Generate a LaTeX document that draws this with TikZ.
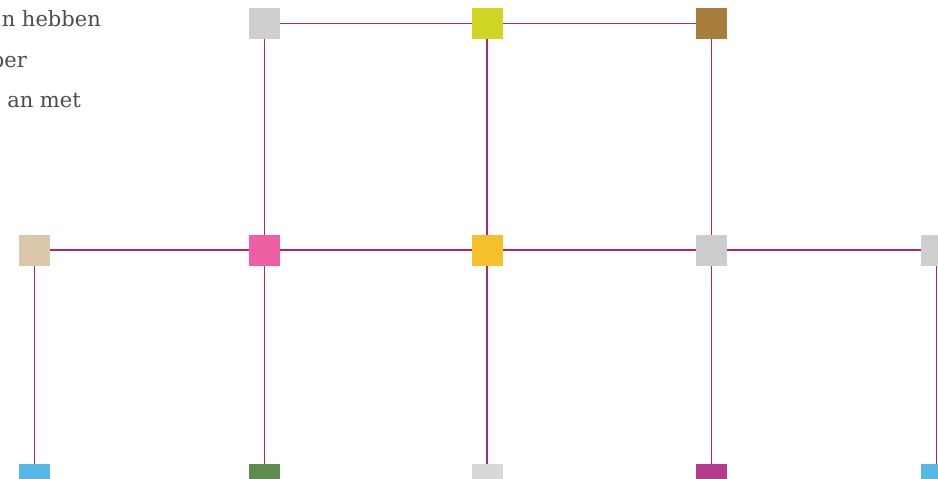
\documentclass[tikz,border=0pt]{standalone}
\usepackage{fontspec}
\setmainfont{DejaVu Serif}
\definecolor{linec}{HTML}{AC2680}
\definecolor{txt}{HTML}{4D4D4D}
\definecolor{cGreyA}{HTML}{CFCFCF}
\definecolor{cLime}{HTML}{D0D423}
\definecolor{cBrown}{HTML}{A87E3C}
\definecolor{cTan}{HTML}{DBC8AA}
\definecolor{cPink}{HTML}{EE5FA3}
\definecolor{cYellow}{HTML}{F5C02A}
\definecolor{cGreyB}{HTML}{CDCDCD}
\definecolor{cGreyC}{HTML}{D0CDCF}
\definecolor{cBlue}{HTML}{56B6E6}
\definecolor{cGreen}{HTML}{5E8B4E}
\definecolor{cGreyD}{HTML}{D8D8D8}
\definecolor{cMag}{HTML}{B63A8C}
\tikzset{
  sq/.style={rectangle, minimum width=31pt, minimum height=31pt, inner sep=0pt, draw=none},
  conn/.style={draw=linec, line width=1.2pt},
  lbl/.style={text=txt, font=\fontsize{21pt}{24pt}\selectfont, inner sep=0pt, anchor=base east}
}
\begin{document}
\begin{tikzpicture}[x=1pt,y=-1pt]
\useasboundingbox (0,0) rectangle (938,479);
\clip (0,0) rectangle (938,479);
\fill[white] (0,0) rectangle (938,479);
% positions
\coordinate (A1) at (264.5,23.5);
\coordinate (A2) at (487,23.5);
\coordinate (A3) at (711.5,23.5);
\coordinate (B1) at (34.5,250);
\coordinate (B2) at (264.5,250);
\coordinate (B3) at (487,250);
\coordinate (B4) at (711.5,250);
\coordinate (B5) at (936.5,250);
\coordinate (C1) at (34.5,479.5);
\coordinate (C2) at (264.5,479.5);
\coordinate (C3) at (487,479.5);
\coordinate (C4) at (711.5,479.5);
\coordinate (C5) at (936.5,479.5);
% connectors
\draw[conn] (A1) -- (A2);
\draw[conn] (A2) -- (A3);
\draw[conn] (B1) -- (B2);
\draw[conn] (B2) -- (B3);
\draw[conn] (B3) -- (B4);
\draw[conn] (B4) -- (B5);
\draw[conn] (A1) -- (B2);
\draw[conn] (A2) -- (B3);
\draw[conn] (A3) -- (B4);
\draw[conn] (B1) -- (C1);
\draw[conn] (B2) -- (C2);
\draw[conn] (B3) -- (C3);
\draw[conn] (B4) -- (C4);
\draw[conn] (B5) -- (C5);
% squares
\node[sq, fill=cGreyA] (nA1) at (A1) {};
\node[sq, fill=cLime] (nA2) at (A2) {};
\node[sq, fill=cBrown] (nA3) at (A3) {};
\node[sq, fill=cTan] (nB1) at (B1) {};
\node[sq, fill=cPink] (nB2) at (B2) {};
\node[sq, fill=cYellow] (nB3) at (B3) {};
\node[sq, fill=cGreyB] (nB4) at (B4) {};
\node[sq, fill=cGreyC] (nB5) at (B5) {};
\node[sq, fill=cBlue] (nC1) at (C1) {};
\node[sq, fill=cGreen] (nC2) at (C2) {};
\node[sq, fill=cGreyD] (nC3) at (C3) {};
\node[sq, fill=cMag] (nC4) at (C4) {};
\node[sq, fill=cBlue] (nC5) at (C5) {};
% text
\node[lbl] (t1) at (101,27) {n hebben};
\node[lbl] (t2) at (27,67) {per};
\node[lbl] (t3) at (81,107) {an met};
\end{tikzpicture}
\end{document}
